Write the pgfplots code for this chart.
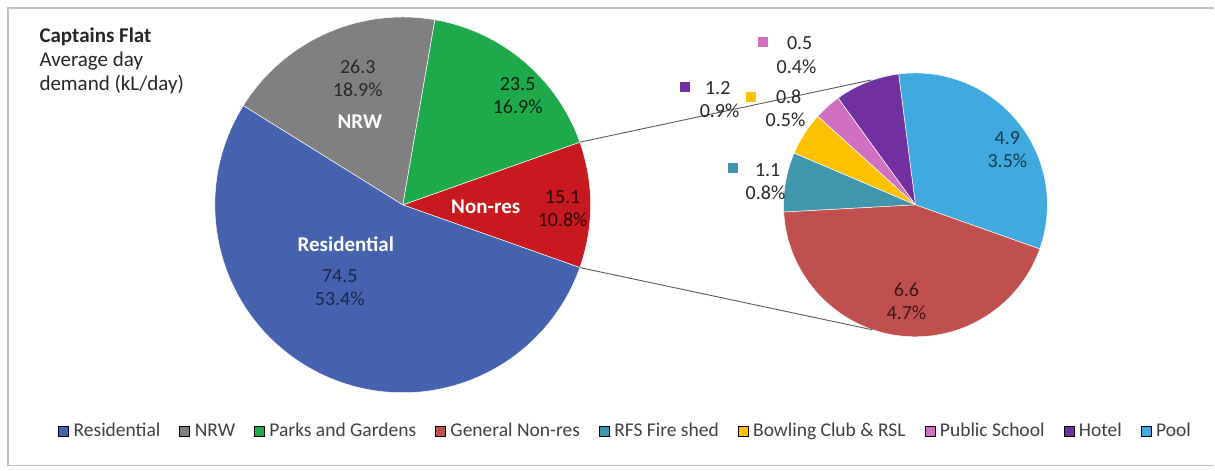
\documentclass[border=0pt]{standalone}
\usepackage{fontspec}
\setmainfont{Carlito}
\usepackage{pgfplots}
\pgfplotsset{compat=1.18}

\definecolor{cRes}{RGB}{68,98,174}
\definecolor{cNRW}{RGB}{128,128,128}
\definecolor{cPark}{RGB}{30,170,75}
\definecolor{cNon}{RGB}{200,25,30}
\definecolor{cGen}{RGB}{192,80,77}
\definecolor{cRFS}{RGB}{64,150,172}
\definecolor{cBowl}{RGB}{255,192,0}
\definecolor{cSch}{RGB}{208,112,192}
\definecolor{cHot}{RGB}{112,48,160}
\definecolor{cPool}{RGB}{64,170,222}
\definecolor{cFrame}{RGB}{195,195,195}
\definecolor{cTxt}{RGB}{40,40,40}
\definecolor{cLeg}{RGB}{64,64,64}

% values (kL/day)
\def\vRes{74.5}\def\vNRW{26.3}\def\vPark{23.5}\def\vNon{15.1}
\def\vGen{6.6}\def\vRFS{1.1}\def\vBowl{0.8}\def\vSch{0.5}\def\vHot{1.2}\def\vPool{4.9}

\newcommand\pieslice[6]{% cx, cy, r, start, end, colour
  \fill[#6, draw=white, line width=0.5pt] (axis cs:#1,#2) -- ++(#4:#3pt)
     arc[start angle=#4, end angle=#5, radius=#3pt] -- cycle;}

\begin{document}
\begin{tikzpicture}
\pgfmathsetmacro\vTot{\vRes+\vNRW+\vPark+\vNon}
\pgfmathsetmacro\aA{-180*(\vNon/\vTot)}
\pgfmathsetmacro\aB{\aA+360*(\vNon/\vTot)}
\pgfmathsetmacro\aC{\aB+360*(\vPark/\vTot)}
\pgfmathsetmacro\aD{\aC+360*(\vNRW/\vTot)}
\pgfmathsetmacro\aE{\aD+360*(\vRes/\vTot)}
\pgfmathsetmacro\bA{\aA}
\pgfmathsetmacro\bB{\bA+360*(\vPool/\vNon)}
\pgfmathsetmacro\bC{\bB+360*(\vHot/\vNon)}
\pgfmathsetmacro\bD{\bC+360*(\vSch/\vNon)}
\pgfmathsetmacro\bE{\bD+360*(\vBowl/\vNon)}
\pgfmathsetmacro\bF{\bE+360*(\vRFS/\vNon)}
\pgfmathsetmacro\bG{\bF+360*(\vGen/\vNon)}
\begin{axis}[
  scale only axis, width=1215pt, height=471pt,
  xmin=0, xmax=1215, ymin=0, ymax=471,
  hide axis, clip=false,
  legend image code/.code={\fill[#1] (0pt,-5pt) rectangle (10pt,5pt);},
  legend columns=-1,
  legend style={at={(axis cs:625,40)}, anchor=center, draw=none, fill=none,
    font=\fontsize{19.5}{22}\selectfont, text=cLeg,
    nodes={inner sep=0pt},
    /tikz/every odd column/.append style={column sep=5pt},
    /tikz/every even column/.append style={column sep=19pt}},
]
\path (axis cs:0,0) rectangle (axis cs:1215,471);
% frame
\draw[cFrame, line width=1.5pt] (axis cs:1215,463) -- (axis cs:8,463) -- (axis cs:8,5) -- (axis cs:1215,5);

% main pie
\pieslice{403}{266}{188}{\aA}{\aB}{cNon}
\pieslice{403}{266}{188}{\aB}{\aC}{cPark}
\pieslice{403}{266}{188}{\aC}{\aD}{cNRW}
\pieslice{403}{266}{188}{\aD}{\aE}{cRes}

% second pie
\pieslice{916}{266}{132}{\bA}{\bB}{cPool}
\pieslice{916}{266}{132}{\bB}{\bC}{cHot}
\pieslice{916}{266}{132}{\bC}{\bD}{cSch}
\pieslice{916}{266}{132}{\bD}{\bE}{cBowl}
\pieslice{916}{266}{132}{\bE}{\bF}{cRFS}
\pieslice{916}{266}{132}{\bF}{\bG}{cGen}

% connectors
\draw[black!65, line width=0.9pt] (axis cs:403,266) ++(\aB:188pt) -- (axis cs:872,391);
\draw[black!65, line width=0.9pt] (axis cs:403,266) ++(\aA:188pt) -- (axis cs:873,141);

% title
\node[anchor=base west, font=\fontsize{21}{24}\selectfont\bfseries, text=black!85] at (axis cs:36,428) {Captains Flat};
\node[anchor=base west, font=\fontsize{21}{24}\selectfont, text=black!85] at (axis cs:36,404) {Average day};
\node[anchor=base west, font=\fontsize{21}{24}\selectfont, text=black!85] at (axis cs:36,380) {demand (kL/day)};

% main labels
\node[font=\fontsize{21}{24}\selectfont\bfseries, text=white] at (axis cs:360,349) {NRW};
\node[font=\fontsize{21}{24}\selectfont\bfseries, text=white] at (axis cs:486,264) {Non-res};
\node[font=\fontsize{21}{24}\selectfont\bfseries, text=white] at (axis cs:346,227) {Residential};
\node[align=center, font=\fontsize{20}{23}\selectfont, text=cTxt] at (axis cs:358,393) {26.3\\18.9\%};
\node[align=center, font=\fontsize{20}{23}\selectfont, text=black!80!cPark] at (axis cs:518,375) {23.5\\16.9\%};
\node[align=center, font=\fontsize{20}{23}\selectfont, text=black!75!cNon] at (axis cs:563,262) {15.1\\10.8\%};
\node[align=center, font=\fontsize{20}{23}\selectfont, text=black!60!cRes] at (axis cs:340,183) {74.5\\53.4\%};

% second pie labels
\node[align=center, font=\fontsize{20}{23}\selectfont, text=black!65!cPool] at (axis cs:1008,321) {4.9\\3.5\%};
\node[align=center, font=\fontsize{20}{23}\selectfont, text=black!70!cGen] at (axis cs:907,169) {6.6\\4.7\%};

\fill[cSch] (axis cs:758,424) rectangle (axis cs:768,434);
\node[anchor=west, font=\fontsize{20}{23}\selectfont, text=cTxt] at (axis cs:784,428) {0.5};
\node[font=\fontsize{20}{23}\selectfont, text=cTxt] at (axis cs:797,404) {0.4\%};

\fill[cHot] (axis cs:680,379) rectangle (axis cs:690,389);
\node[anchor=west, font=\fontsize{20}{23}\selectfont, text=cTxt] at (axis cs:702,383) {1.2};
\node[font=\fontsize{20}{23}\selectfont, text=cTxt] at (axis cs:720,360) {0.9\%};

\fill[cBowl] (axis cs:746.5,369) rectangle (axis cs:756.5,379);
\node[anchor=west, font=\fontsize{20}{23}\selectfont, text=cTxt] at (axis cs:773,374) {0.8};
\node[font=\fontsize{20}{23}\selectfont, text=cTxt] at (axis cs:786,351) {0.5\%};

\fill[cRFS] (axis cs:728,298) rectangle (axis cs:738,308);
\node[anchor=west, font=\fontsize{20}{23}\selectfont, text=cTxt] at (axis cs:752,301) {1.1};
\node[font=\fontsize{20}{23}\selectfont, text=cTxt] at (axis cs:766,278) {0.8\%};

% legend
\addlegendimage{fill=cRes}\addlegendentry{Residential}
\addlegendimage{fill=cNRW}\addlegendentry{NRW}
\addlegendimage{fill=cPark}\addlegendentry{Parks and Gardens}
\addlegendimage{fill=cGen}\addlegendentry{General Non-res}
\addlegendimage{fill=cRFS}\addlegendentry{RFS Fire shed}
\addlegendimage{fill=cBowl}\addlegendentry{Bowling Club \& RSL}
\addlegendimage{fill=cSch}\addlegendentry{Public School}
\addlegendimage{fill=cHot}\addlegendentry{Hotel}
\addlegendimage{fill=cPool}\addlegendentry{Pool}
\end{axis}
\end{tikzpicture}
\end{document}
